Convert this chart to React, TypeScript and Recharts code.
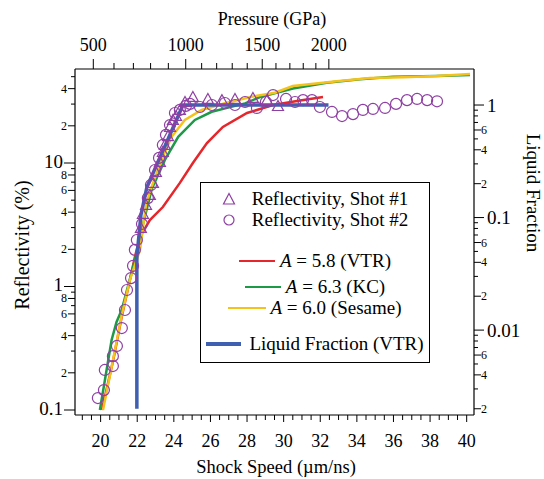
import React from 'react';
import { ComposedChart, Line, Scatter, XAxis, YAxis, Legend } from 'recharts';

const SERIF = "'Liberation Serif', 'DejaVu Serif', serif";
const PURPLE = '#8e3fa3';
const RED = '#e5262b';
const GREEN = '#1d9a46';
const YELLOW = '#f5c21b';
const BLUE = '#3f5fb0';

// model curves (reflectivity %, left axis)
const redX = [20.07, 20.69, 21.15, 21.6, 21.87, 22.15, 22.69, 23.4, 24.33, 25.04, 25.81, 26.68, 28.0, 29.42, 30.73, 32.15];
const redY = [0.1, 0.254, 0.566, 1.13, 1.73, 2.52, 3.45, 4.4, 6.9, 10, 14.5, 19.6, 25.4, 29.5, 31.8, 34.2];

const greenX = [19.96, 20.6, 20.87, 21.15, 21.69, 22.05, 22.33, 22.8, 23.51, 24.24, 25.15, 26.07, 26.97, 27.89, 28.71, 30.51, 32.35, 34.17, 35.97, 38.36, 40.18];
const greenY = [0.1, 0.369, 0.516, 0.645, 1.29, 2.09, 3.27, 6.2, 10.6, 16.3, 22.3, 26.0, 28.1, 30.4, 34.2, 40.1, 44.7, 47.6, 50, 50.6, 51.6];

const yellowX = [20.13, 20.67, 21.16, 21.6, 22.15, 22.48, 22.79, 23.33, 23.88, 24.6, 25.52, 26.79, 28.25, 29.52, 30.5, 32.9, 34.72, 36.52, 38.36, 40.18];
const yellowY = [0.1, 0.25, 0.59, 1.13, 1.97, 4.6, 6.43, 10.6, 16.3, 22.3, 26.9, 30.5, 34.4, 37.1, 42.0, 46.0, 48.7, 49.5, 50.6, 52.6];

// liquid fraction (right axis)
const blueX = [21.98, 21.98, 22.2, 22.53, 24.5, 32.45];
const blueY = [0.002, 0.0446, 0.105, 0.187, 1.0, 1.0];

// measured reflectivity
const shot1X = [22.2, 22.31, 22.48, 22.69, 22.86, 23.02, 23.24, 23.4, 23.51, 23.68, 23.79, 23.95, 24.12, 24.33, 24.61, 25.04, 25.86, 26.63, 27.34, 28.32, 29.09, 29.69];
const shot1Y = [2.98, 3.87, 4.57, 5.51, 6.89, 8.46, 10.2, 12.3, 14.0, 16.5, 19.6, 22.3, 24.0, 26.9, 31.2, 34.2, 33.0, 32.3, 33.0, 33.6, 32.3, 28.9];

const shot2X = [19.85, 20.18, 20.23, 20.67, 20.67, 20.89, 21.16, 21.33, 21.44, 21.66, 21.77, 21.87, 21.98, 22.26, 22.58, 22.75, 22.97, 23.19, 23.4, 23.57, 23.79, 24.06, 24.33, 24.66, 24.88, 25.43, 26.08, 26.79, 27.34, 27.89, 28.54, 29.03, 29.42, 30.13, 30.62, 31.06, 31.55, 31.98, 32.64, 33.19, 33.79, 34.33, 34.88, 35.54, 36.14, 36.74, 37.29, 37.84, 38.38];
const shot2Y = [0.125, 0.145, 0.211, 0.227, 0.273, 0.33, 0.461, 0.645, 0.937, 1.17, 1.47, 1.98, 2.38, 3.21, 5.2, 6.64, 8.78, 11.0, 14.0, 16.9, 20.3, 25.4, 26.9, 29.0, 30.1, 28.4, 29.5, 30.6, 29.5, 31.2, 27.9, 31.2, 35.5, 33.0, 31.2, 32.3, 32.3, 28.4, 25.9, 24.0, 24.9, 26.9, 27.4, 27.9, 30.1, 32.3, 33.0, 32.3, 31.6];

// ticks
const speedTicks = [19, 19.5, 20, 20.5, 21, 21.5, 22, 22.5, 23, 23.5, 24, 24.5, 25, 25.5, 26, 26.5, 27, 27.5, 28, 28.5, 29, 29.5, 30, 30.5, 31, 31.5, 32, 32.5, 33, 33.5, 34, 34.5, 35, 35.5, 36, 36.5, 37, 37.5, 38, 38.5, 39, 39.5, 40];
const speedLabels = [20, 22, 24, 26, 28, 30, 32, 34, 36, 38, 40];

const pressureTickSpeed = [19.6, 20.73, 21.79, 22.73, 23.7, 24.65, 25.52, 26.34, 27.19, 28.01, 28.83, 29.58, 30.34, 31.07, 31.76, 32.47];
const pressureTickLabel = ['500', '', '', '', '', '1000', '', '', '', '', '1500', '', '', '', '', '2000'];

const reflTicks = [0.1, 0.2, 0.3, 0.4, 0.5, 0.6, 0.7, 0.8, 0.9, 1, 2, 3, 4, 5, 6, 7, 8, 9, 10, 20, 30, 40, 50];
const reflTickLabel = ['0.1', '2', '', '4', '', '6', '', '8', '', '1', '2', '', '4', '', '6', '', '8', '', '10', '2', '', '4', ''];
const reflMajor = [0.1, 1, 10];

const lfTicks = [0.002, 0.003, 0.004, 0.005, 0.006, 0.007, 0.008, 0.009, 0.01, 0.02, 0.03, 0.04, 0.05, 0.06, 0.07, 0.08, 0.09, 0.1, 0.2, 0.3, 0.4, 0.5, 0.6, 0.7, 0.8, 0.9, 1];
const lfTickLabel = ['2', '', '4', '', '6', '', '', '', '0.01', '2', '', '4', '', '6', '', '', '', '0.1', '2', '', '4', '', '6', '', '', '', '1'];
const lfMajor = [0.01, 0.1, 1];

const toPts = (xs: number[], ys: number[]) => xs.map((x, i) => ({ x, y: ys[i] }));

const BottomTick = (props: any) => {
  const { x, y, payload } = props;
  const labeled = speedLabels.includes(payload.value);
  const len = labeled ? 7 : 5;
  return (
    <g>
      <line x1={x} x2={x} y1={y} y2={y + len} stroke="#000" strokeWidth={1} />
      {labeled && (
        <text x={x} y={y + 26} textAnchor="middle" dominantBaseline="central" fontSize={18} style={{ fontFamily: SERIF }} fill="#000">
          {payload.value}
        </text>
      )}
    </g>
  );
};

const TopTick = (props: any) => {
  const { x, y, index } = props;
  const label = pressureTickLabel[index] || '';
  const len = label ? 10 : 6;
  return (
    <g>
      <line x1={x} x2={x} y1={y} y2={y - len} stroke="#000" strokeWidth={1} />
      {label && (
        <text x={x} y={y - 24} textAnchor="middle" dominantBaseline="central" fontSize={18} style={{ fontFamily: SERIF }} fill="#000">
          {label}
        </text>
      )}
    </g>
  );
};

const LeftTick = (props: any) => {
  const { x, y, payload, index } = props;
  const label = reflTickLabel[index] || '';
  const major = reflMajor.includes(payload.value);
  const len = major ? 11 : label ? 7 : 4;
  return (
    <g>
      <line x1={x - len} x2={x} y1={y} y2={y} stroke="#000" strokeWidth={1} />
      {label && (
        <text x={x - len - 1} y={major ? y - 2 : y} textAnchor="end" dominantBaseline="central" fontSize={major ? 19 : 12} style={{ fontFamily: SERIF }} fill="#000">
          {label}
        </text>
      )}
    </g>
  );
};

const RightTick = (props: any) => {
  const { x, y, payload, index } = props;
  const label = lfTickLabel[index] || '';
  const major = lfMajor.includes(payload.value);
  const len = major ? 10 : label ? 7 : 4;
  return (
    <g>
      <line x1={x} x2={x + len} y1={y} y2={y} stroke="#000" strokeWidth={1} />
      {label && (
        <text x={x + len + (major ? 3 : 0)} y={y} textAnchor="start" dominantBaseline="central" fontSize={major ? 19 : 12} style={{ fontFamily: SERIF }} fill="#000">
          {label}
        </text>
      )}
    </g>
  );
};

const triangleShape = (p: any) => {
  const { cx, cy } = p;
  const s = 5.5;
  return (
    <polygon
      points={`${cx},${cy - s} ${cx - s},${cy + s * 0.8} ${cx + s},${cy + s * 0.8}`}
      fill="none"
      stroke={PURPLE}
      strokeWidth={1.2}
    />
  );
};

const circleShape = (p: any) => (
  <circle cx={p.cx} cy={p.cy} r={5.5} fill="none" stroke={PURPLE} strokeWidth={1.2} />
);

const rowStyle = (top: number): React.CSSProperties => ({
  position: 'absolute',
  top: top - 11,
  left: 0,
  right: 0,
  height: 22,
  display: 'flex',
  alignItems: 'center',
  justifyContent: 'center',
  whiteSpace: 'nowrap',
});

const LegendBox = () => (
  <div
    style={{
      position: 'relative',
      width: 230,
      height: 181,
      border: '1.5px solid #000',
      boxSizing: 'border-box',
      background: '#fff',
      fontFamily: SERIF,
      fontSize: 19,
      color: '#000',
    }}
  >
    <div style={rowStyle(16)}>
      <svg width={14} height={14} style={{ marginRight: 16 }}>
        <polygon points="7,1.5 1.5,12 12.5,12" fill="none" stroke={PURPLE} strokeWidth={1.2} />
      </svg>
      <span>Reflectivity, Shot #1</span>
    </div>
    <div style={rowStyle(37)}>
      <svg width={14} height={14} style={{ marginRight: 16 }}>
        <circle cx={7} cy={7} r={5} fill="none" stroke={PURPLE} strokeWidth={1.2} />
      </svg>
      <span>Reflectivity, Shot #2</span>
    </div>
    <div style={rowStyle(78)}>
      <span style={{ width: 36, height: 2.5, background: RED, marginRight: 5, display: 'inline-block' }} />
      <span><i>A</i> = 5.8 (VTR)</span>
    </div>
    <div style={rowStyle(104)}>
      <span style={{ width: 36, height: 2.5, background: GREEN, marginRight: 5, display: 'inline-block' }} />
      <span><i>A</i> = 6.3 (KC)</span>
    </div>
    <div style={rowStyle(125)}>
      <span style={{ width: 38, height: 2.5, background: YELLOW, marginRight: 4, display: 'inline-block' }} />
      <span><i>A</i> = 6.0 (Sesame)</span>
    </div>
    <div style={rowStyle(161)}>
      <span style={{ width: 35, height: 3.5, background: BLUE, marginRight: 8, display: 'inline-block' }} />
      <span>Liquid Fraction (VTR)</span>
    </div>
  </div>
);

export default function App() {
  return (
    <div style={{ position: 'absolute', left: 0, top: 0, width: 544, height: 479, background: '#fff', fontFamily: SERIF }}>
      <ComposedChart width={544} height={479} margin={{ top: 39, right: 30, bottom: 34, left: 35 }}>
        <XAxis
          xAxisId="bottom"
          dataKey="x"
          type="number"
          domain={[18.6, 40.4]}
          allowDataOverflow
          ticks={speedTicks}
          interval={0}
          tickSize={0}
          tickMargin={0}
          tick={<BottomTick />}
          axisLine={{ stroke: '#000', strokeWidth: 1.2 }}
          tickLine={false}
          height={30}
        />
        <XAxis
          xAxisId="top"
          orientation="top"
          dataKey="x"
          type="number"
          domain={[18.6, 40.4]}
          allowDataOverflow
          ticks={pressureTickSpeed}
          interval={0}
          tickSize={0}
          tickMargin={0}
          tick={<TopTick />}
          axisLine={{ stroke: '#000', strokeWidth: 1.2 }}
          tickLine={false}
          height={30}
        />
        <YAxis
          yAxisId="refl"
          scale="log"
          type="number"
          domain={[0.0911, 57.7]}
          allowDataOverflow
          ticks={reflTicks}
          interval={0}
          tickSize={0}
          tickMargin={0}
          tick={<LeftTick />}
          axisLine={{ stroke: '#000', strokeWidth: 1.2 }}
          tickLine={false}
          width={40}
        />
        <YAxis
          yAxisId="lf"
          orientation="right"
          scale="log"
          type="number"
          domain={[0.00176, 2.09]}
          allowDataOverflow
          ticks={lfTicks}
          interval={0}
          tickSize={0}
          tickMargin={0}
          tick={<RightTick />}
          axisLine={{ stroke: '#000', strokeWidth: 1.2 }}
          tickLine={false}
          width={40}
        />
        <Legend
          verticalAlign="middle"
          align="center"
          layout="horizontal"
          content={<LegendBox />}
          wrapperStyle={{ left: 200, top: 182, width: 230, height: 181 }}
        />
        <Line xAxisId="bottom" yAxisId="refl" data={toPts(redX, redY)} dataKey="y" stroke={RED} strokeWidth={2.5} dot={false} isAnimationActive={false} legendType="none" />
        <Line xAxisId="bottom" yAxisId="refl" data={toPts(greenX, greenY)} dataKey="y" stroke={GREEN} strokeWidth={2.5} dot={false} isAnimationActive={false} legendType="none" />
        <Line xAxisId="bottom" yAxisId="refl" data={toPts(yellowX, yellowY)} dataKey="y" stroke={YELLOW} strokeWidth={2.5} dot={false} isAnimationActive={false} legendType="none" />
        <Scatter xAxisId="bottom" yAxisId="refl" data={toPts(shot2X, shot2Y)} dataKey="y" shape={circleShape} isAnimationActive={false} legendType="none" />
        <Scatter xAxisId="bottom" yAxisId="refl" data={toPts(shot1X, shot1Y)} dataKey="y" shape={triangleShape} isAnimationActive={false} legendType="none" />
        <Line xAxisId="bottom" yAxisId="lf" data={toPts(blueX, blueY)} dataKey="y" stroke={BLUE} strokeWidth={3.5} dot={false} isAnimationActive={false} legendType="none" />
      </ComposedChart>

      <div style={{ position: 'absolute', left: 272, top: 19, transform: 'translate(-50%, -50%)', fontSize: 18, whiteSpace: 'nowrap' }}>
        Pressure (GPa)
      </div>
      <div style={{ position: 'absolute', left: 276, top: 467, transform: 'translate(-50%, -50%)', fontSize: 18.5, whiteSpace: 'nowrap' }}>
        Shock Speed (µm/ns)
      </div>
      <div style={{ position: 'absolute', left: 22, top: 245, transform: 'translate(-50%, -50%) rotate(-90deg)', fontSize: 20, whiteSpace: 'nowrap' }}>
        Reflectivity (%)
      </div>
      <div style={{ position: 'absolute', left: 533, top: 193, transform: 'translate(-50%, -50%) rotate(90deg)', fontSize: 19, lineHeight: '20px', whiteSpace: 'nowrap' }}>
        Liquid Fraction
      </div>
    </div>
  );
}
